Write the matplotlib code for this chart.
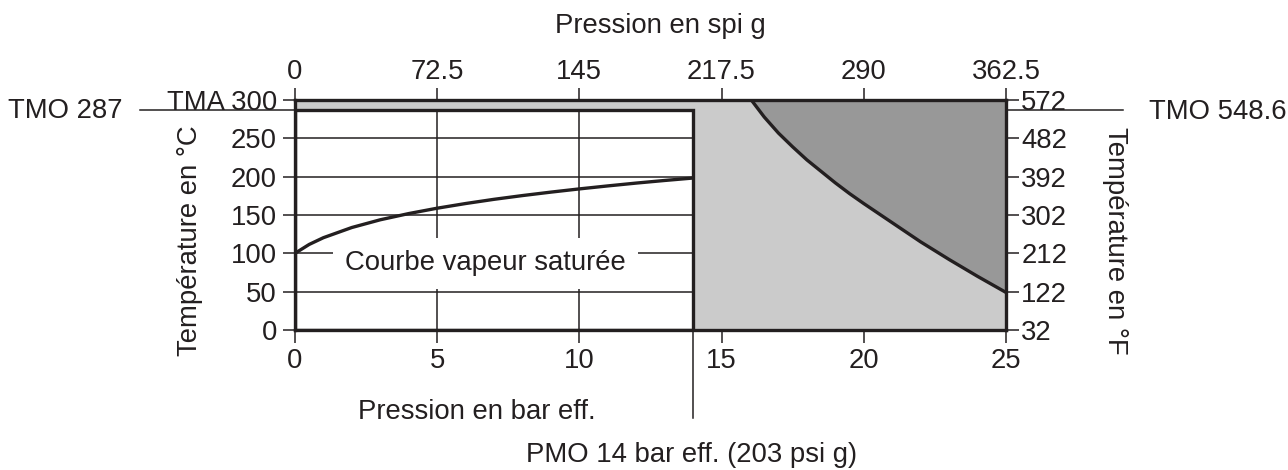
import matplotlib
matplotlib.use("Agg")
import matplotlib.pyplot as plt
from matplotlib.patches import Rectangle

plt.rcParams['font.family'] = ['Liberation Sans', 'DejaVu Sans']

# pression (bar eff.) / temperature (degC)
sat_p = [0, 0.5, 1, 2, 3, 4, 5, 6, 7, 8, 9, 10, 11, 12, 13, 14]
sat_t = [100, 111.6, 120.4, 133.7, 143.8, 151.9, 158.9, 165.0, 170.5, 175.4, 179.9, 184.1, 188.0, 191.7, 195.1, 198.3]

# limite zone interdite (gris fonce)
lim_p = [16.05, 16.5, 17, 17.5, 18, 18.5, 19, 19.5, 20, 21, 22, 23, 24, 25]
lim_t = [300, 278, 257, 239, 222, 207, 192, 178, 165, 140, 115, 92, 70, 49]

pmo = 14
tmo = 287
tma = 300
p_max = 25

x_ticks = [0, 5, 10, 15, 20, 25]
psi_ticks = [0, 72.5, 145, 217.5, 290, 362.5]
psi_labels = ["0", "72.5", "145", "217.5", "290", "362.5"]
y_ticks = [0, 50, 100, 150, 200, 250, 300]
y_labels = ["0", "50", "100", "150", "200", "250", "TMA 300"]
f_ticks = [32, 122, 212, 302, 392, 482, 572]
grid_x = [5, 10]
grid_y = [50, 100, 150, 200, 250]

txt = '#231f20'
light = '#cbcbcb'
dark = '#989898'
fs = 19.8

fig = plt.figure(figsize=(12.88, 4.7), dpi=100)
ax = fig.add_axes([0.229, 0.298, 0.552, 0.489])
ax.set_xlim(0, p_max)
ax.set_ylim(0, tma)
ax.set_facecolor(light)

ax.fill_between(lim_p, lim_t, tma, color=dark, lw=0, zorder=1)
ax.plot(lim_p, lim_t, color=txt, lw=2.4, zorder=4, solid_capstyle='butt', solid_joinstyle='round')

ax.add_patch(Rectangle((0, 0), pmo, tmo, facecolor='white', edgecolor=txt, lw=2.4, zorder=2))
ax.vlines(grid_x, 0, tmo, color=txt, lw=1.1, zorder=3)
ax.hlines(grid_y, 0, pmo, color=txt, lw=1.1, zorder=3)

ax.plot(sat_p, sat_t, color=txt, lw=2.4, zorder=4, solid_joinstyle='round')

ax.text(6.7, 87, "Courbe vapeur saturée", fontsize=fs, color=txt, ha='center', va='center', zorder=5,
        bbox=dict(facecolor='white', edgecolor='none', pad=9))

for s in ax.spines.values():
    s.set_linewidth(2.4)
    s.set_color(txt)
    s.set_zorder(6)

ax.set_xticks(x_ticks)
ax.set_yticks(y_ticks, labels=y_labels)
ax.tick_params(direction='out', length=9, width=1.1, colors=txt, labelsize=fs, pad=4)

top = ax.secondary_xaxis('top', functions=(lambda b: b * 14.5, lambda p: p / 14.5))
top.set_xticks(psi_ticks, labels=psi_labels)
top.tick_params(direction='out', length=9, width=1.1, colors=txt, labelsize=fs, pad=2)
top.spines['top'].set_visible(False)

right = ax.secondary_yaxis('right', functions=(lambda c: c * 1.8 + 32, lambda f: (f - 32) / 1.8))
right.set_yticks(f_ticks)
right.tick_params(direction='out', length=9, width=1.1, colors=txt, labelsize=fs, pad=2)
right.spines['right'].set_visible(False)

# lignes de repere TMO / PMO
ax.plot([-0.218, 0], [tmo, tmo], transform=ax.get_yaxis_transform(), color=txt, lw=1.1, clip_on=False)
ax.plot([1, 1.165], [tmo, tmo], transform=ax.get_yaxis_transform(), color=txt, lw=1.1, clip_on=False)
ax.plot([pmo, pmo], [0, -0.383], transform=ax.get_xaxis_transform(), color=txt, lw=1.1, clip_on=False)

fig.text(0.513, 0.945, "Pression en spi g", fontsize=fs, color=txt, ha='center', va='center')
fig.text(0.051, 0.764, "TMO 287", fontsize=fs, color=txt, ha='center', va='center')
fig.text(0.892, 0.762, "TMO 548.6", fontsize=fs, color=txt, ha='left', va='center')
fig.text(0.1475, 0.487, "Température en °C", fontsize=fs, color=txt, ha='center', va='center', rotation=90)
fig.text(0.866, 0.487, "Température en °F", fontsize=fs, color=txt, ha='center', va='center', rotation=-90)
fig.text(0.370, 0.123, "Pression en bar eff.", fontsize=fs, color=txt, ha='center', va='center')
fig.text(0.537, 0.032, "PMO 14 bar eff. (203 psi g)", fontsize=fs, color=txt, ha='center', va='center')

fig.savefig("out.png", dpi=100)
